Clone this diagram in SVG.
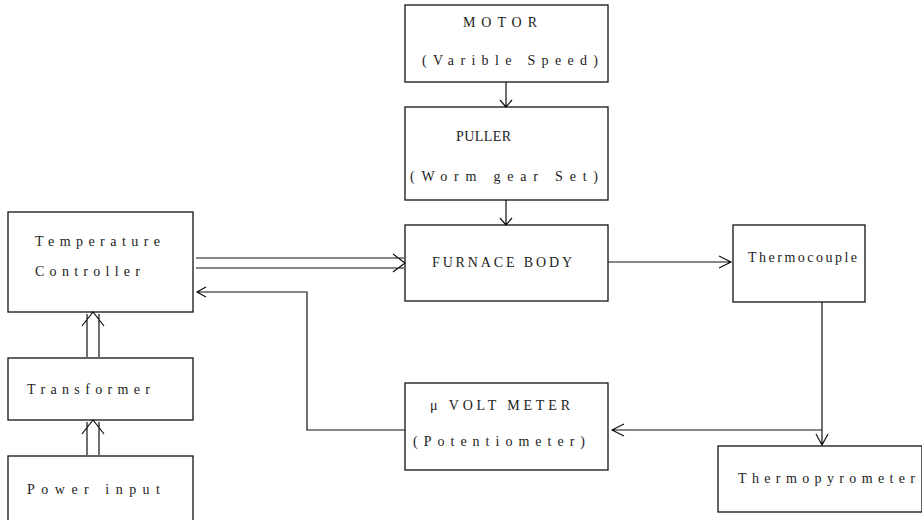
<svg xmlns="http://www.w3.org/2000/svg" width="922" height="520" viewBox="0 0 922 520">
<style>
.box{fill:#fff;stroke:#111;stroke-width:1.3}
.t{font-family:"Liberation Serif",serif;font-size:14px;fill:#222}
.c{fill:none;stroke:#111;stroke-width:1.2}
</style>
<rect width="922" height="520" fill="#fff"/>
<g id="motor"><rect class="box" x="405" y="5" width="203" height="77"/>
<text class="t" x="463" y="27" textLength="74" lengthAdjust="spacing">MOTOR</text>
<text class="t" x="422" y="65" textLength="176" lengthAdjust="spacing">(Varible Speed)</text></g>
<g id="puller"><rect class="box" x="405" y="107" width="203" height="93"/>
<text class="t" x="456" y="141" textLength="55" lengthAdjust="spacing">PULLER</text>
<text class="t" x="410" y="181" textLength="188" lengthAdjust="spacing">(Worm gear Set)</text></g>
<g id="furnace"><rect class="box" x="405" y="225" width="203" height="76"/>
<text class="t" x="432" y="267" textLength="140" lengthAdjust="spacing">FURNACE BODY</text></g>
<g id="thermocouple"><rect class="box" x="733" y="225" width="132" height="77"/>
<text class="t" x="748" y="262" textLength="109" lengthAdjust="spacing">Thermocouple</text></g>
<g id="controller"><rect class="box" x="8" y="212" width="185" height="100"/>
<text class="t" x="35" y="246" textLength="125" lengthAdjust="spacing">Temperature</text>
<text class="t" x="35" y="276" textLength="105" lengthAdjust="spacing">Controller</text></g>
<g id="transformer"><rect class="box" x="8" y="358" width="185" height="62"/>
<text class="t" x="27" y="394" textLength="123" lengthAdjust="spacing">Transformer</text></g>
<g id="power"><rect class="box" x="8" y="456" width="185" height="70"/>
<text class="t" x="27" y="494" textLength="133" lengthAdjust="spacing">Power input</text></g>
<g id="voltmeter"><rect class="box" x="405" y="383" width="203" height="87"/>
<text class="t" x="430" y="410" textLength="140" lengthAdjust="spacing">μ VOLT METER</text>
<text class="t" x="413" y="446" textLength="172" lengthAdjust="spacing">(Potentiometer)</text></g>
<g id="thermopyrometer"><rect class="box" x="718" y="446" width="204" height="66"/>
<text class="t" x="738" y="483" textLength="177" lengthAdjust="spacing">Thermopyrometer</text></g>
<g id="connectors">
<path class="c" d="M506 82V107M500 100L506 107L512 100"/>
<path class="c" d="M506 200V225M500 218L506 225L512 218"/>
<path class="c" d="M196 258H404M196 268H404M393 254L405 263L393 272"/>
<path class="c" d="M405 430H307V292H197M206 287L197 292L206 297"/>
<path class="c" d="M608 262H731M719 256L731 262L719 268"/>
<path class="c" d="M822 302V445M816 434L822 445L828 434"/>
<path class="c" d="M822 430H612M624 424L612 430L624 436"/>
<path class="c" d="M87 357V314M99 357V314M82 326L93 312L104 326"/>
<path class="c" d="M87 455V422M99 455V422M82 434L93 420L104 434"/>
</g>
</svg>
